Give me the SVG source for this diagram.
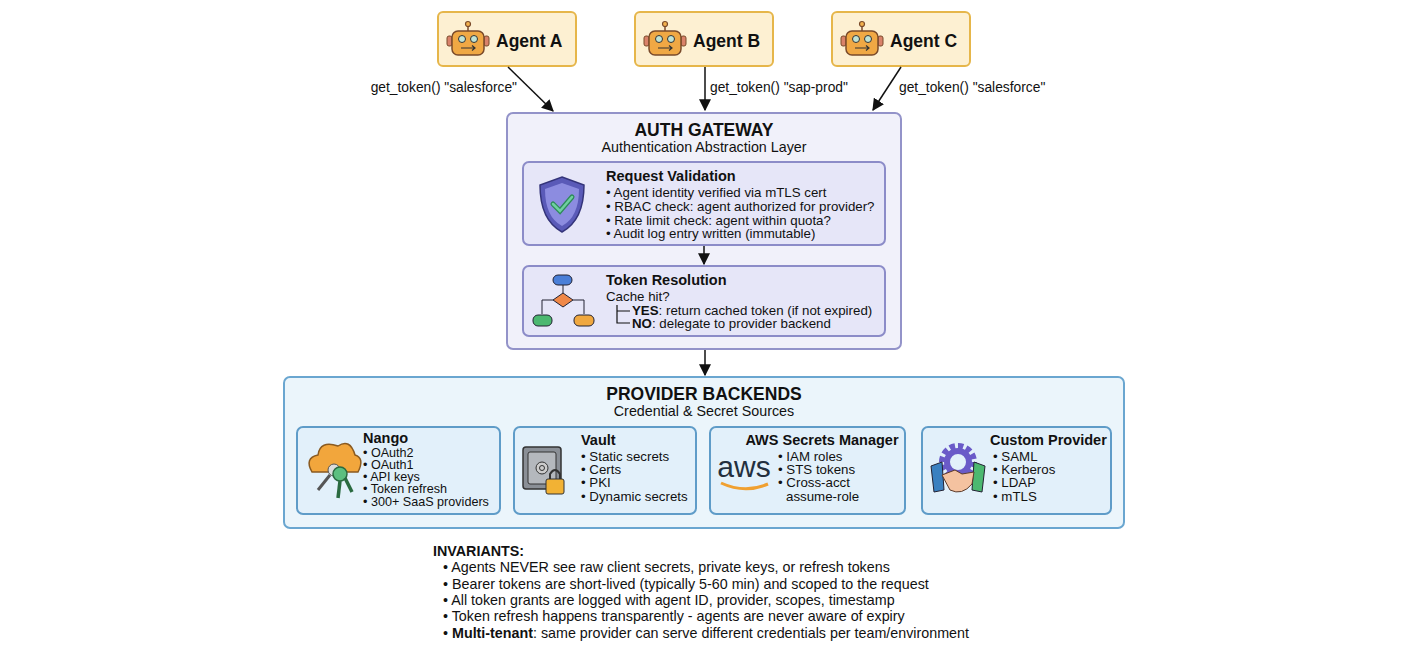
<svg xmlns="http://www.w3.org/2000/svg" width="1408" height="648" viewBox="0 0 1408 648">
<defs>
<marker id="ah" viewBox="0 0 10 10" refX="9" refY="5" markerWidth="8" markerHeight="8" orient="auto"><path d="M0,0 L10,5 L0,10 z" fill="#111"/></marker>
<style>
text{font-family:"Liberation Sans",Arial,sans-serif;fill:#111}
.b{font-weight:bold}
.agent rect.box{fill:#fdf0d2;stroke:#e6b64a;stroke-width:2}
.lbl{font-size:13.8px}
.sm{font-size:13.3px}
.xs{font-size:12.6px}
.conn line{stroke:#111;stroke-width:1.5;marker-end:url(#ah)}
.pv{fill:#e2f0fa;stroke:#5f9cc8;stroke-width:2}
</style>
<g id="robot">
<line x1="0" y1="-17" x2="0" y2="-11" stroke="#7a4a2a" stroke-width="1.5"/>
<circle cx="0" cy="-18" r="2.5" fill="#f2b14e" stroke="#7a4a2a" stroke-width="1.2"/>
<rect x="-21" y="-6" width="5" height="10" rx="2" fill="#d9826a" stroke="#7a4a2a"/>
<rect x="16" y="-6" width="5" height="10" rx="2" fill="#d9826a" stroke="#7a4a2a"/>
<rect x="-16" y="-11" width="32" height="24" rx="6" fill="#f0a844" stroke="#7a4a2a" stroke-width="1.5"/>
<circle cx="-6" cy="-3" r="3.5" fill="#bfe3d6" stroke="#333"/>
<circle cx="6" cy="-3" r="3.5" fill="#bfe3d6" stroke="#333"/>
<path d="M-7,6 H7 M4,3.5 L7,6 L4,8.5" fill="none" stroke="#333" stroke-width="1.2"/>
</g>
</defs>
<rect width="1408" height="648" fill="#fff"/>

<g id="agentA" class="agent"><rect class="box" x="438" y="12" width="138" height="54" rx="5"/><use href="#robot" x="468" y="42"/><text x="496" y="47" class="b" font-size="17.5">Agent A</text></g>
<g id="agentB" class="agent"><rect class="box" x="635" y="12" width="138" height="54" rx="5"/><use href="#robot" x="665" y="42"/><text x="693" y="47" class="b" font-size="17.5">Agent B</text></g>
<g id="agentC" class="agent"><rect class="box" x="832" y="12" width="138" height="54" rx="5"/><use href="#robot" x="862" y="42"/><text x="890" y="47" class="b" font-size="17.5">Agent C</text></g>

<g id="labels" class="lbl">
<text x="517" y="92" text-anchor="end">get_token() "salesforce"</text>
<text x="710" y="92">get_token() "sap-prod"</text>
<text x="899" y="92">get_token() "salesforce"</text>
</g>

<g id="gateway">
<rect x="507" y="113" width="394" height="236" rx="6" fill="#f1f1fa" stroke="#9393c9" stroke-width="2"/>
<text x="704" y="136" text-anchor="middle" class="b" font-size="17.5">AUTH GATEWAY</text>
<text x="704" y="152" text-anchor="middle" font-size="14.3">Authentication Abstraction Layer</text>
</g>
<g id="validation">
<rect x="523" y="162" width="362" height="83" rx="6" fill="#e6e6f8" stroke="#8c8cc8" stroke-width="2"/>
<path d="M562,177 L584,185 Q584,220 562,232 Q540,220 540,185 Z" fill="#5a5ab8" stroke="#34347a" stroke-width="1.5"/>
<path d="M562,183 L579,189 Q579,217 562,226 Q545,217 545,189 Z" fill="#8c8ce0"/>
<path d="M553,204 L560,211 L572,197" fill="none" stroke="#2e8a5a" stroke-width="5" stroke-linecap="round"/>
<path d="M553,204 L560,211 L572,197" fill="none" stroke="#6fd0a0" stroke-width="2.5" stroke-linecap="round"/>
<text x="606" y="181" class="b" font-size="14.5">Request Validation</text>
<text class="sm"><tspan x="606" y="197">• Agent identity verified via mTLS cert</tspan><tspan x="606" y="211">• RBAC check: agent authorized for provider?</tspan><tspan x="606" y="225">• Rate limit check: agent within quota?</tspan><tspan x="606" y="238">• Audit log entry written (immutable)</tspan></text>
</g>
<g id="resolution">
<rect x="523" y="266" width="362" height="70" rx="6" fill="#e6e6f8" stroke="#8c8cc8" stroke-width="2"/>
<rect x="553" y="275" width="19" height="10" rx="5" fill="#4a7fd8" stroke="#223"/>
<line x1="563" y1="285" x2="563" y2="293" stroke="#223"/>
<path d="M563,293 L573,300 L563,307 L553,300 Z" fill="#f08848" stroke="#223"/>
<path d="M553,300 H542 V314 M573,300 H584 V314" fill="none" stroke="#223"/>
<rect x="533" y="315" width="19" height="11" rx="5" fill="#4cb870" stroke="#223"/>
<rect x="574" y="315" width="20" height="11" rx="5" fill="#f0a840" stroke="#223"/>
<text x="606" y="285" class="b" font-size="14.5">Token Resolution</text>
<text x="606" y="301" class="sm">Cache hit?</text>
<path d="M617,305 V323 H630 M617,311 H630" fill="none" stroke="#111" stroke-width="1.2"/>
<text class="sm"><tspan x="632" y="315" class="b">YES</tspan><tspan>: return cached token (if not expired)</tspan></text>
<text class="sm"><tspan x="632" y="328" class="b">NO</tspan><tspan>: delegate to provider backend</tspan></text>
</g>

<g id="providers">
<rect x="284" y="377" width="840" height="151" rx="6" fill="#ebf5fb" stroke="#6aa6d0" stroke-width="2"/>
<text x="704" y="400" text-anchor="middle" class="b" font-size="17.5">PROVIDER BACKENDS</text>
<text x="704" y="416" text-anchor="middle" font-size="14.3">Credential &amp; Secret Sources</text>
</g>
<g id="nango">
<rect class="pv" x="297" y="427" width="203" height="87" rx="6"/>
<path d="M312,472 Q304,458 318,455 Q320,440 338,446 Q350,438 355,455 Q365,458 358,472 Z" fill="#f2a63c" stroke="#8a5a20" stroke-width="1.5"/>
<circle cx="334" cy="470" r="6" fill="#ddd" stroke="#555"/><line x1="330" y1="475" x2="318" y2="490" stroke="#555" stroke-width="3"/>
<circle cx="340" cy="474" r="7" fill="#5cbf80" stroke="#2a6a40" stroke-width="1.5"/><line x1="340" y1="481" x2="338" y2="498" stroke="#2a6a40" stroke-width="3.5"/><line x1="345" y1="478" x2="352" y2="492" stroke="#2a6a40" stroke-width="3.5"/>
<text x="363" y="443" class="b" font-size="14.5">Nango</text>
<text class="xs"><tspan x="363" y="457">• OAuth2</tspan><tspan x="363" y="469">• OAuth1</tspan><tspan x="363" y="481">• API keys</tspan><tspan x="363" y="493">• Token refresh</tspan><tspan x="363" y="506">• 300+ SaaS providers</tspan></text>
</g>
<g id="vault">
<rect class="pv" x="514" y="427" width="182" height="87" rx="6"/>
<rect x="523" y="447" width="38" height="42" rx="3" fill="#8a8f96" stroke="#333" stroke-width="1.5"/>
<rect x="528" y="452" width="28" height="32" rx="2" fill="#b4b8bd" stroke="#333"/>
<circle cx="542" cy="468" r="6" fill="#ccc" stroke="#333"/><circle cx="542" cy="468" r="2.5" fill="none" stroke="#333"/>
<path d="M550,479 V474 Q555,466 560,474 V479" fill="none" stroke="#333" stroke-width="2"/>
<rect x="546" y="479" width="18" height="15" rx="2" fill="#f2b234" stroke="#333"/>
<text x="581" y="445" class="b" font-size="14.5">Vault</text>
<text class="sm"><tspan x="581" y="461">• Static secrets</tspan><tspan x="581" y="474">• Certs</tspan><tspan x="581" y="487">• PKI</tspan><tspan x="581" y="501">• Dynamic secrets</tspan></text>
</g>
<g id="aws">
<rect class="pv" x="710" y="427" width="195" height="87" rx="6"/>
<text x="744" y="477" text-anchor="middle" font-size="30" style="fill:#232f3e">aws</text>
<path d="M721,483 Q745,494 768,484" fill="none" stroke="#f0a030" stroke-width="3"/>
<text x="822" y="445" text-anchor="middle" class="b" font-size="14.5">AWS Secrets Manager</text>
<text class="sm"><tspan x="778" y="461">• IAM roles</tspan><tspan x="778" y="474">• STS tokens</tspan><tspan x="778" y="487">• Cross-acct</tspan><tspan x="786" y="501">assume-role</tspan></text>
</g>
<g id="custom">
<rect class="pv" x="922" y="427" width="189" height="87" rx="6"/>
<circle cx="958" cy="462" r="15" fill="none" stroke="#6a5ac8" stroke-width="8" stroke-dasharray="5 2.8"/>
<circle cx="958" cy="462" r="11" fill="none" stroke="#6a5ac8" stroke-width="6"/>
<path d="M931,466 L942,462 L944,490 L934,492 Z" fill="#3a80c0" stroke="#223"/>
<path d="M985,466 L974,462 L972,490 L982,492 Z" fill="#4cb870" stroke="#223"/>
<path d="M942,475 L955,470 L962,474 L974,472 L972,484 Q962,496 950,490 Z" fill="#f4c2a0" stroke="#5a3a2a"/>
<text x="990" y="445" class="b" font-size="14.5">Custom Provider</text>
<text class="sm"><tspan x="993" y="461">• SAML</tspan><tspan x="993" y="474">• Kerberos</tspan><tspan x="993" y="487">• LDAP</tspan><tspan x="993" y="501">• mTLS</tspan></text>
</g>

<g id="connectors" class="conn">
<line x1="508" y1="67" x2="553" y2="111"/>
<line x1="705" y1="67" x2="705" y2="110"/>
<line x1="901" y1="67" x2="873" y2="110"/>
<line x1="704" y1="246" x2="704" y2="264"/>
<line x1="705" y1="350" x2="705" y2="375"/>
</g>

<g id="invariants">
<text x="433" y="556" class="b" font-size="14.3">INVARIANTS:</text>
<text font-size="14.3"><tspan x="443" y="572">• Agents NEVER see raw client secrets, private keys, or refresh tokens</tspan><tspan x="443" y="589">• Bearer tokens are short-lived (typically 5-60 min) and scoped to the request</tspan><tspan x="443" y="605">• All token grants are logged with agent ID, provider, scopes, timestamp</tspan><tspan x="443" y="621">• Token refresh happens transparently - agents are never aware of expiry</tspan></text>
<text font-size="14.3"><tspan x="443" y="638">• </tspan><tspan class="b">Multi-tenant</tspan><tspan>: same provider can serve different credentials per team/environment</tspan></text>
</g>
</svg>
